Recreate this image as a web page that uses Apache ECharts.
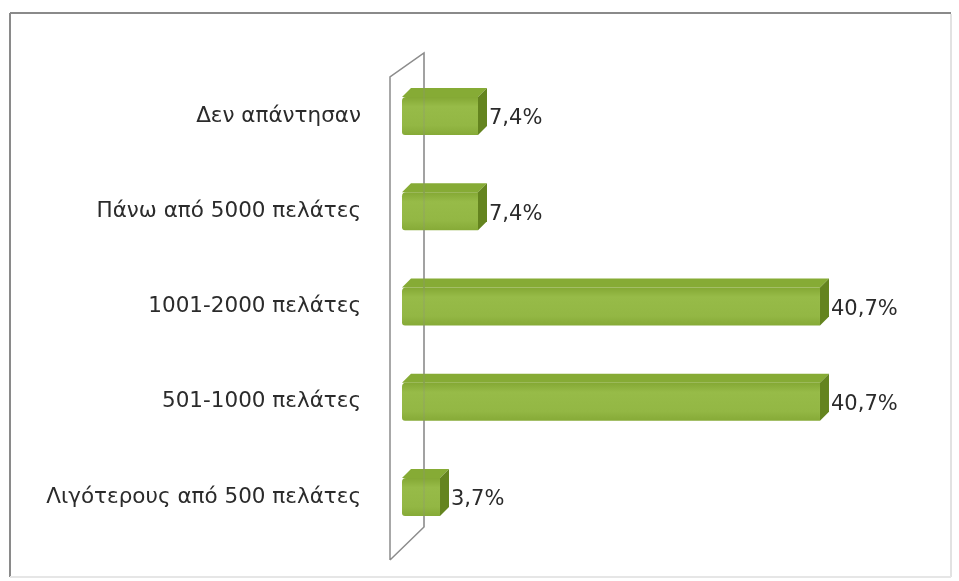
<!DOCTYPE html>
<html>
<head>
<meta charset="utf-8">
<script src="https://cdn.jsdelivr.net/npm/echarts@6/dist/echarts.min.js"></script>
<style>
html,body{margin:0;padding:0;background:#fff;}
#chart{width:959px;height:581px;}
</style>
</head>
<body>
<div id="chart"></div>
<script>
// Data (top to bottom as shown)
const categories = ['Δεν απάντησαν', 'Πάνω από 5000 πελάτες', '1001-2000 πελάτες', '501-1000 πελάτες', 'Λιγότερους από 500 πελάτες'];
const values = [7.4, 7.4, 40.7, 40.7, 3.7];
const valueLabels = ['7,4%', '7,4%', '40,7%', '40,7%', '3,7%'];

const chart = echarts.init(document.getElementById('chart'), null, {renderer: 'canvas'});
const FONT = 'DejaVu Sans';
const BAR_H = 38, DEPTH = 9;

const seriesData = values.map((v, i) => [v, i]);

const option = {
  backgroundColor: '#ffffff',
  animation: false,
  grid: {left: 402, right: 43.5, top: 68.4, bottom: 36.4, containLabel: false},
  xAxis: {
    type: 'value', min: 0, max: 50, show: false
  },
  yAxis: {
    type: 'category', data: categories, inverse: true,
    axisLine: {show: false}, axisTick: {show: false}, splitLine: {show: false},
    axisLabel: {margin: 41, fontFamily: FONT, fontSize: 21.5, color: '#2b2b2b'}
  },
  graphic: [
    // frame
    {type: 'line', shape: {x1: 10, y1: 13, x2: 951, y2: 13}, style: {stroke: '#8a8a8a', lineWidth: 2}, z: 1},
    {type: 'line', shape: {x1: 10, y1: 13, x2: 10, y2: 577}, style: {stroke: '#8a8a8a', lineWidth: 2}, z: 1},
    {type: 'line', shape: {x1: 951, y1: 14, x2: 951, y2: 577}, style: {stroke: '#e2e2e2', lineWidth: 2}, z: 1},
    {type: 'line', shape: {x1: 10, y1: 577, x2: 951, y2: 577}, style: {stroke: '#e6e6e6', lineWidth: 2}, z: 1},
    // 3D wall
    {type: 'polyline', shape: {points: [[390, 560], [390, 77], [424, 53], [424, 527], [390, 560]]}, style: {stroke: '#8c8c8c', lineWidth: 1.5, fill: null}, z: 1},
    // back wall line faintly visible through bars
    {type: 'line', shape: {x1: 424, y1: 53, x2: 424, y2: 527}, style: {stroke: 'rgba(140,140,140,0.35)', lineWidth: 1.2}, z: 10}
  ],
  series: [{
    type: 'custom',
    data: seriesData,
    encode: {x: 0, y: 1},
    z: 5,
    renderItem: function (params, api) {
      const val = api.value(0), cat = api.value(1);
      const s = api.coord([0, cat]);
      const e = api.coord([val, cat]);
      const x0 = s[0], x1 = e[0];
      const y0 = s[1] - BAR_H / 2, y1 = s[1] + BAR_H / 2;
      const d = DEPTH;
      return {
        type: 'group',
        children: [
          {type: 'polygon', shape: {points: [[x0, y0], [x0 + d, y0 - d], [x1 + d, y0 - d], [x1, y0]]},
           style: {fill: '#86ab35'}},
          {type: 'polygon', shape: {points: [[x1, y0], [x1 + d, y0 - d], [x1 + d, y1 - d], [x1, y1]]},
           style: {fill: '#64841f'}},
          {type: 'rect', shape: {x: x0, y: y0, width: x1 - x0, height: BAR_H, r: [4, 0, 0, 3]},
           style: {fill: new echarts.graphic.LinearGradient(0, 0, 0, 1, [
             {offset: 0, color: '#84a834'}, {offset: 0.25, color: '#97bb48'}, {offset: 0.75, color: '#93b744'}, {offset: 1, color: '#86aa37'}])}},
          {type: 'text', x: x1 + d + 2, y: s[1] + 3,
           style: {text: valueLabels[cat], fontFamily: FONT, fontSize: 21, fill: '#2b2b2b', align: 'left', verticalAlign: 'middle'}}
        ]
      };
    }
  }]
};
chart.setOption(option);
</script>
</body>
</html>
